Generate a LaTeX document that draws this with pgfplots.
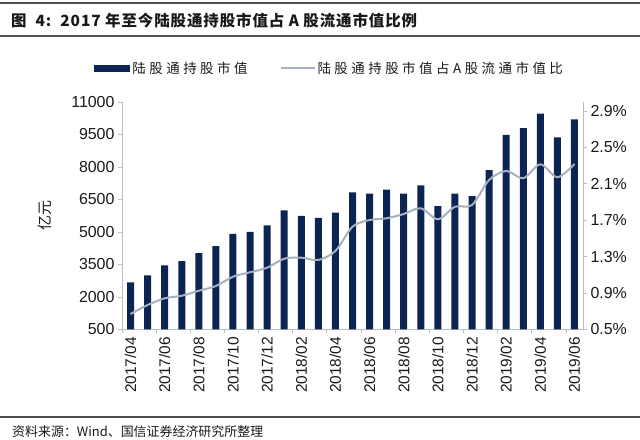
\documentclass[border=0pt]{standalone}
\usepackage{fontspec}
\setmainfont{Liberation Sans}
\newfontfamily\cjk{Noto Sans CJK SC}
\usepackage{pgfplots}
\usepackage{pgfplotstable}
\pgfplotsset{compat=1.18}
\definecolor{navy}{RGB}{12,36,82}
\definecolor{lgray}{RGB}{166,176,190}
\definecolor{axgray}{RGB}{190,190,190}
\definecolor{txt}{RGB}{25,25,25}
\definecolor{rule}{RGB}{80,80,80}

\pgfplotstableread{
x v p
0 2680 0.670
1 3000 0.769
2 3460 0.843
3 3650 0.871
4 4030 0.926
5 4350 0.978
6 4910 1.080
7 5000 1.129
8 5310 1.179
9 6000 1.278
10 5740 1.289
11 5650 1.264
12 5890 1.363
13 6830 1.630
14 6770 1.703
15 6950 1.722
16 6770 1.769
17 7150 1.832
18 6190 1.711
19 6770 1.849
20 6660 1.868
21 7850 2.143
22 9480 2.242
23 9790 2.162
24 10460 2.315
25 9370 2.173
26 10200 2.319
}\data

\pgfplotsset{
  common/.style={
    at={(122bp,110.5bp)}, anchor=south west,
    width=461bp, height=227.5bp, scale only axis,
    xmin=-0.5, xmax=26.5,
    axis line style={axgray, line width=0.8bp},
    tick align=outside,
    major tick length=4bp,
    tick style={axgray, line width=0.8bp},
    tick label style={txt, font=\fontsize{16}{16}\selectfont},
    scaled ticks=false,
  }
}

\begin{document}
\begin{tikzpicture}[x=1bp,y=1bp]
\path[use as bounding box] (0,0) rectangle (640,440);
\draw[rule, line width=1.4bp] (0,437) -- (640,437);
\draw[rule, line width=1.2bp] (0,404) -- (640,404);
\draw[rule, line width=1.4bp] (0,23) -- (640,23);
\node[anchor=west, inner sep=0, txt, font=\cjk\bfseries\fontsize{15.5}{16}\selectfont\addfontfeature{LetterSpace=6}] at (11,419) {图\hspace{9bp}4:\hspace{9bp}2017 年至今陆股通持股市值占 A 股流通市值比例};
\node[anchor=west, inner sep=0, txt, font=\cjk\fontsize{13}{13}\selectfont] at (12,8) {资料来源：Wind、国信证券经济研究所整理};
\node[rotate=90, txt, font=\cjk\fontsize{15}{15}\selectfont] at (45,224) {亿元};

\begin{axis}[common,
  ymin=500, ymax=11000,
  axis x line*=bottom, axis y line*=left,
  ytick={500,2000,3500,5000,6500,8000,9500,11000},
  yticklabels={500,2000,3500,5000,6500,8000,9500,11000},
  xtick={0,2,...,26},
  xticklabels={2017/04,2017/06,2017/08,2017/10,2017/12,2018/02,2018/04,2018/06,2018/08,2018/10,2018/12,2019/02,2019/04,2019/06},
  x tick label style={rotate=90, anchor=east, font=\fontsize{15.5}{15.5}\selectfont},
  major x tick style={draw=none},
  minor xtick={-0.5,1.5,...,25.5},
  minor tick length=4bp,
  minor x tick style={axgray, line width=0.8bp},
  legend style={at={(0.4505,1.149)}, anchor=center, draw=none, fill=none,
    font=\cjk\fontsize{13.5}{13.5}\selectfont\addfontfeature{LetterSpace=26}, text=txt,
    /tikz/every even column/.append style={column sep=30bp}},
  legend columns=-1,
]
\addplot[ybar, bar width=7bp, fill=navy, draw=none,
  legend image code/.code={\fill[navy] (0bp,-3.5bp) rectangle (36bp,3.5bp);}]
  table[x=x,y=v]{\data};
\addlegendentry{陆股通持股市值}
\addlegendimage{legend image code/.code={\draw[lgray, line width=2bp] (0bp,0bp) -- (34bp,0bp);}}
\addlegendentry{陆股通持股市值占A股流通市值比}
\end{axis}

\begin{axis}[common,
  ymin=0.5, ymax=3.0,
  axis x line=none, axis y line*=right,
  ytick={0.5,0.9,1.3,1.7,2.1,2.5,2.9},
  yticklabels={0.5\%,0.9\%,1.3\%,1.7\%,2.1\%,2.5\%,2.9\%},
]
\addplot[lgray, line width=2bp, smooth] table[x=x,y=p]{\data};
\end{axis}
\end{tikzpicture}
\end{document}
